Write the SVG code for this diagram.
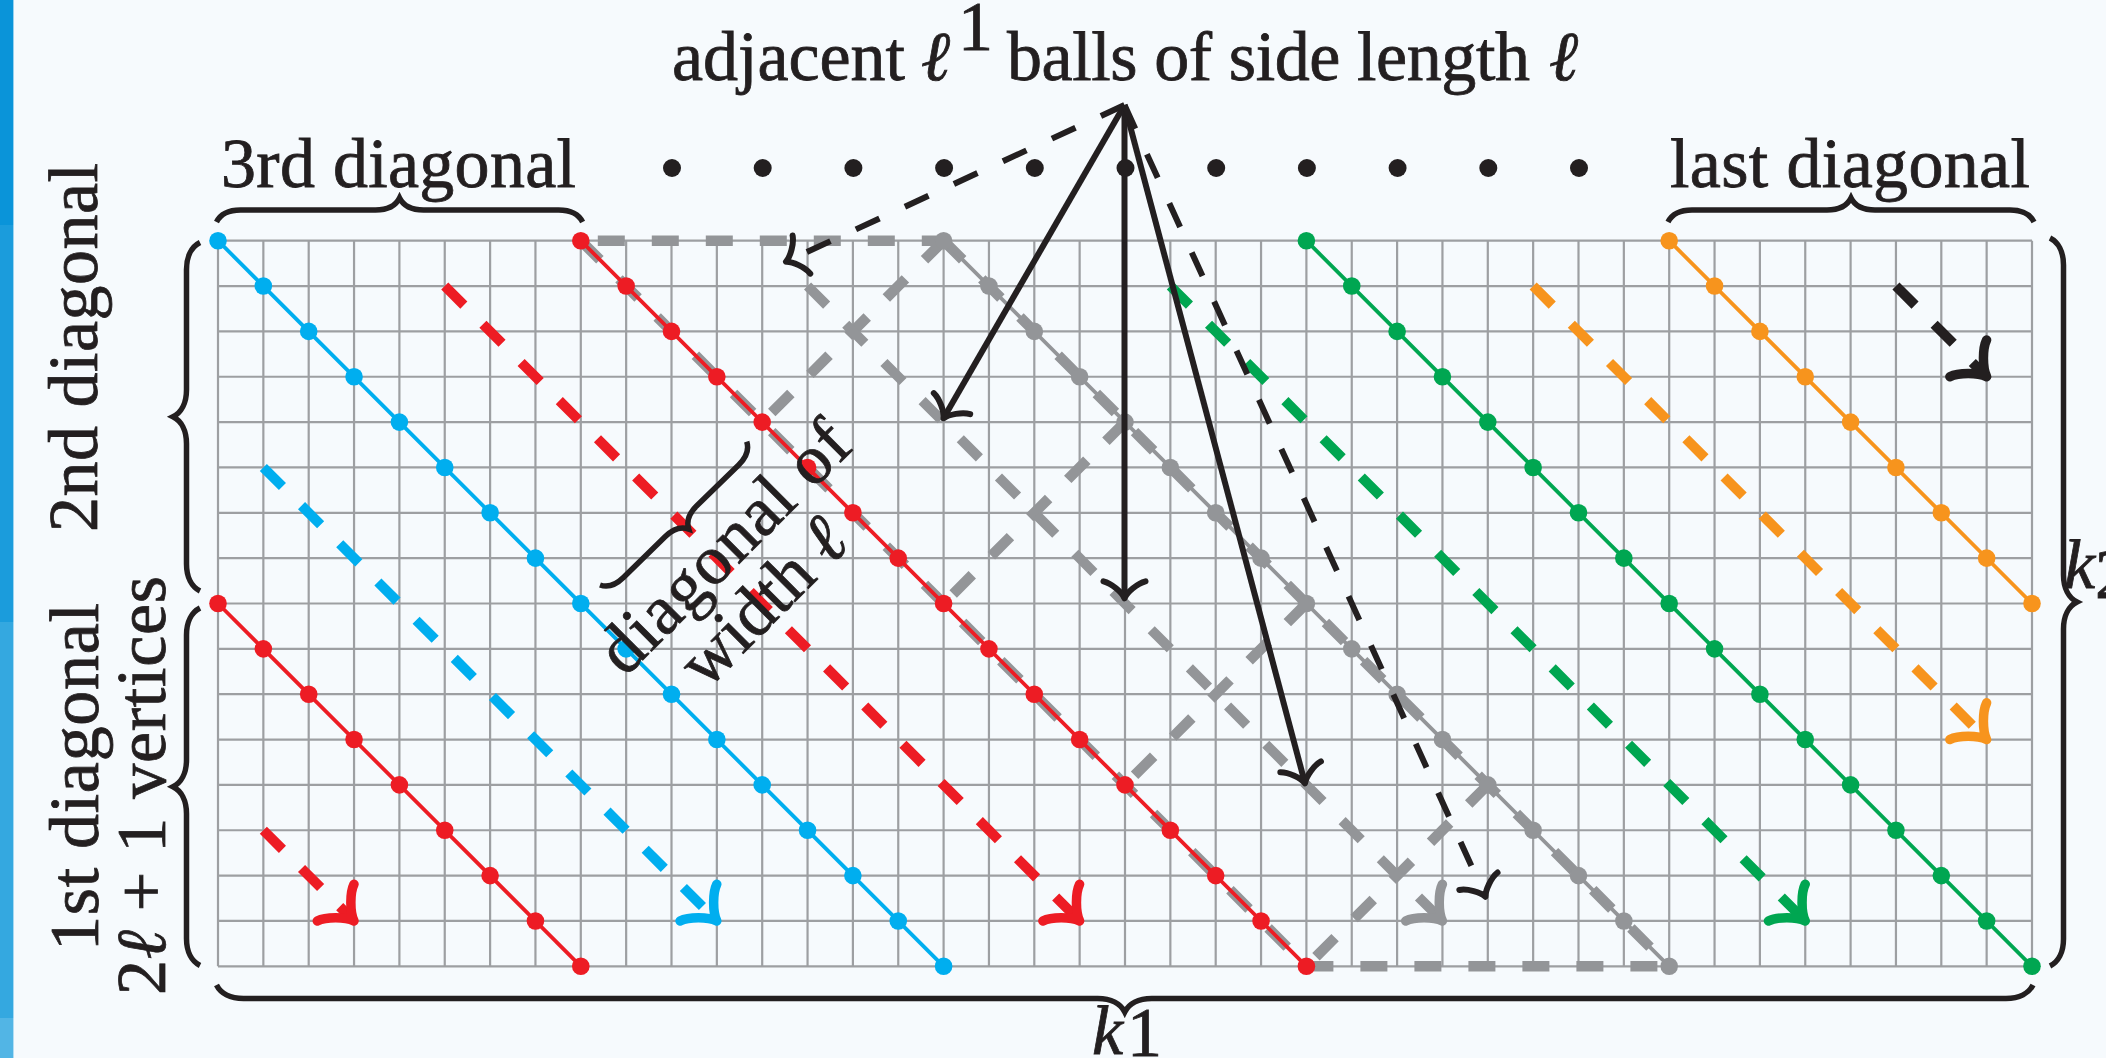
<svg xmlns="http://www.w3.org/2000/svg" width="2106" height="1058" viewBox="0 0 2106 1058">
<defs>
<style>
.lab{font-family:"Liberation Serif","DejaVu Serif",serif;font-size:70px;fill:#231F20;stroke:#231F20;stroke-width:0.8px}
.grid line{stroke:#9D9FA2;stroke-width:2.2}
.sol{fill:none;stroke-width:3.8}
.ball{fill:none;stroke:#939598;stroke-width:10.5;stroke-dasharray:27 27}
.da{fill:none;stroke-width:10;stroke-dasharray:27 27}
.ka{fill:none;stroke:#231F20;stroke-width:6}
.kd{stroke-dasharray:26 28}
.brace{fill:none;stroke:#231F20;stroke-width:5.5}
.red{stroke:#ED1C24}.redf{fill:#ED1C24}
.blue{stroke:#00AEEF}.bluef{fill:#00AEEF}
.gray{stroke:#939598}.grayf{fill:#939598}
.green{stroke:#00A651}.greenf{fill:#00A651}
.orange{stroke:#F7941D}.orangef{fill:#F7941D}
.black{stroke:#231F20}
</style>
<marker id="mR" markerUnits="userSpaceOnUse" viewBox="-40 -40 80 80" markerWidth="80" markerHeight="80" refX="-3" refY="0" orient="auto" overflow="visible"><path d="M-26,26 C-23,17 -9,3 0,0 C-9,-3 -23,-17 -26,-26" fill="none" stroke="#ED1C24" stroke-width="9.5" stroke-linecap="round" stroke-linejoin="round"/></marker>
<marker id="mB" markerUnits="userSpaceOnUse" viewBox="-40 -40 80 80" markerWidth="80" markerHeight="80" refX="-3" refY="0" orient="auto" overflow="visible"><path d="M-26,26 C-23,17 -9,3 0,0 C-9,-3 -23,-17 -26,-26" fill="none" stroke="#00AEEF" stroke-width="9.5" stroke-linecap="round" stroke-linejoin="round"/></marker>
<marker id="mGy" markerUnits="userSpaceOnUse" viewBox="-40 -40 80 80" markerWidth="80" markerHeight="80" refX="-3" refY="0" orient="auto" overflow="visible"><path d="M-26,26 C-23,17 -9,3 0,0 C-9,-3 -23,-17 -26,-26" fill="none" stroke="#939598" stroke-width="9.5" stroke-linecap="round" stroke-linejoin="round"/></marker>
<marker id="mGn" markerUnits="userSpaceOnUse" viewBox="-40 -40 80 80" markerWidth="80" markerHeight="80" refX="-3" refY="0" orient="auto" overflow="visible"><path d="M-26,26 C-23,17 -9,3 0,0 C-9,-3 -23,-17 -26,-26" fill="none" stroke="#00A651" stroke-width="9.5" stroke-linecap="round" stroke-linejoin="round"/></marker>
<marker id="mO" markerUnits="userSpaceOnUse" viewBox="-40 -40 80 80" markerWidth="80" markerHeight="80" refX="-3" refY="0" orient="auto" overflow="visible"><path d="M-26,26 C-23,17 -9,3 0,0 C-9,-3 -23,-17 -26,-26" fill="none" stroke="#F7941D" stroke-width="9.5" stroke-linecap="round" stroke-linejoin="round"/></marker>
<marker id="mK9" markerUnits="userSpaceOnUse" viewBox="-40 -40 80 80" markerWidth="80" markerHeight="80" refX="-3" refY="0" orient="auto" overflow="visible"><path d="M-26,26 C-23,17 -9,3 0,0 C-9,-3 -23,-17 -26,-26" fill="none" stroke="#231F20" stroke-width="9.5" stroke-linecap="round" stroke-linejoin="round"/></marker>
<marker id="mK" markerUnits="userSpaceOnUse" viewBox="-40 -40 80 80" markerWidth="80" markerHeight="80" refX="0" refY="0" orient="auto" overflow="visible"><path d="M-17,21 C-15,13 -6,2.5 0,0 C-6,-2.5 -15,-13 -17,-21" fill="none" stroke="#231F20" stroke-width="6" stroke-linecap="round" stroke-linejoin="round"/></marker>
</defs>

<rect x="0" y="0" width="2106" height="1058" fill="#F6FAFD"/>
<g id="sidebar">
<rect x="0" y="0" width="13.4" height="225" fill="#0A94D9"/>
<rect x="0" y="225" width="13.4" height="397" fill="#1B9CDC"/>
<rect x="0" y="622" width="13.4" height="396" fill="#34A8E0"/>
<rect x="0" y="1018" width="13.4" height="40" fill="#52B5E5"/>
</g>

<g id="grid" class="grid">
<line x1="218" y1="240.7" x2="218" y2="966.3"/><line x1="263.35" y1="240.7" x2="263.35" y2="966.3"/><line x1="308.7" y1="240.7" x2="308.7" y2="966.3"/><line x1="354.05" y1="240.7" x2="354.05" y2="966.3"/><line x1="399.4" y1="240.7" x2="399.4" y2="966.3"/><line x1="444.75" y1="240.7" x2="444.75" y2="966.3"/><line x1="490.1" y1="240.7" x2="490.1" y2="966.3"/><line x1="535.45" y1="240.7" x2="535.45" y2="966.3"/><line x1="580.8" y1="240.7" x2="580.8" y2="966.3"/><line x1="626.15" y1="240.7" x2="626.15" y2="966.3"/><line x1="671.5" y1="240.7" x2="671.5" y2="966.3"/><line x1="716.85" y1="240.7" x2="716.85" y2="966.3"/><line x1="762.2" y1="240.7" x2="762.2" y2="966.3"/><line x1="807.55" y1="240.7" x2="807.55" y2="966.3"/><line x1="852.9" y1="240.7" x2="852.9" y2="966.3"/><line x1="898.25" y1="240.7" x2="898.25" y2="966.3"/><line x1="943.6" y1="240.7" x2="943.6" y2="966.3"/><line x1="988.95" y1="240.7" x2="988.95" y2="966.3"/><line x1="1034.3" y1="240.7" x2="1034.3" y2="966.3"/><line x1="1079.65" y1="240.7" x2="1079.65" y2="966.3"/><line x1="1125" y1="240.7" x2="1125" y2="966.3"/><line x1="1170.35" y1="240.7" x2="1170.35" y2="966.3"/><line x1="1215.7" y1="240.7" x2="1215.7" y2="966.3"/><line x1="1261.05" y1="240.7" x2="1261.05" y2="966.3"/><line x1="1306.4" y1="240.7" x2="1306.4" y2="966.3"/><line x1="1351.75" y1="240.7" x2="1351.75" y2="966.3"/><line x1="1397.1" y1="240.7" x2="1397.1" y2="966.3"/><line x1="1442.45" y1="240.7" x2="1442.45" y2="966.3"/><line x1="1487.8" y1="240.7" x2="1487.8" y2="966.3"/><line x1="1533.15" y1="240.7" x2="1533.15" y2="966.3"/><line x1="1578.5" y1="240.7" x2="1578.5" y2="966.3"/><line x1="1623.85" y1="240.7" x2="1623.85" y2="966.3"/><line x1="1669.2" y1="240.7" x2="1669.2" y2="966.3"/><line x1="1714.55" y1="240.7" x2="1714.55" y2="966.3"/><line x1="1759.9" y1="240.7" x2="1759.9" y2="966.3"/><line x1="1805.25" y1="240.7" x2="1805.25" y2="966.3"/><line x1="1850.6" y1="240.7" x2="1850.6" y2="966.3"/><line x1="1895.95" y1="240.7" x2="1895.95" y2="966.3"/><line x1="1941.3" y1="240.7" x2="1941.3" y2="966.3"/><line x1="1986.65" y1="240.7" x2="1986.65" y2="966.3"/><line x1="2032" y1="240.7" x2="2032" y2="966.3"/>
<line x1="218" y1="240.7" x2="2032" y2="240.7"/><line x1="218" y1="286.05" x2="2032" y2="286.05"/><line x1="218" y1="331.4" x2="2032" y2="331.4"/><line x1="218" y1="376.75" x2="2032" y2="376.75"/><line x1="218" y1="422.1" x2="2032" y2="422.1"/><line x1="218" y1="467.45" x2="2032" y2="467.45"/><line x1="218" y1="512.8" x2="2032" y2="512.8"/><line x1="218" y1="558.15" x2="2032" y2="558.15"/><line x1="218" y1="603.5" x2="2032" y2="603.5"/><line x1="218" y1="648.85" x2="2032" y2="648.85"/><line x1="218" y1="694.2" x2="2032" y2="694.2"/><line x1="218" y1="739.55" x2="2032" y2="739.55"/><line x1="218" y1="784.9" x2="2032" y2="784.9"/><line x1="218" y1="830.25" x2="2032" y2="830.25"/><line x1="218" y1="875.6" x2="2032" y2="875.6"/><line x1="218" y1="920.95" x2="2032" y2="920.95"/><line x1="218" y1="966.3" x2="2032" y2="966.3"/>
</g>

<g id="balls">
<path class="ball" d="M580.8,240.7 H943.6" stroke-dashoffset="37"/>
<path class="ball" d="M580.8,240.7 L1306.4,966.3"/>
<path class="ball" d="M943.6,240.7 L1669.2,966.3"/>
<path class="ball" d="M943.6,240.7 L762.2,422.1"/>
<path class="ball" d="M1125,422.1 L943.6,603.5"/>
<path class="ball" d="M1306.4,603.5 L1125,784.9"/>
<path class="ball" d="M1487.8,784.9 L1306.4,966.3"/>
<path class="ball" d="M1306.4,966.3 H1669.2"/>
</g>

<g id="diag1">
<path class="sol red" d="M218,603.5 L580.8,966.3"/>
<g class="redf"><circle cx="218" cy="603.5" r="8.8"/><circle cx="263.35" cy="648.85" r="8.8"/><circle cx="308.7" cy="694.2" r="8.8"/><circle cx="354.05" cy="739.55" r="8.8"/><circle cx="399.4" cy="784.9" r="8.8"/><circle cx="444.75" cy="830.25" r="8.8"/><circle cx="490.1" cy="875.6" r="8.8"/><circle cx="535.45" cy="920.95" r="8.8"/><circle cx="580.8" cy="966.3" r="8.8"/></g>
</g>
<g id="diag2">
<path class="sol blue" d="M218,240.7 L943.6,966.3"/>
<g class="bluef"><circle cx="218" cy="240.7" r="8.8"/><circle cx="263.35" cy="286.05" r="8.8"/><circle cx="308.7" cy="331.4" r="8.8"/><circle cx="354.05" cy="376.75" r="8.8"/><circle cx="399.4" cy="422.1" r="8.8"/><circle cx="444.75" cy="467.45" r="8.8"/><circle cx="490.1" cy="512.8" r="8.8"/><circle cx="535.45" cy="558.15" r="8.8"/><circle cx="580.8" cy="603.5" r="8.8"/><circle cx="626.15" cy="648.85" r="8.8"/><circle cx="671.5" cy="694.2" r="8.8"/><circle cx="716.85" cy="739.55" r="8.8"/><circle cx="762.2" cy="784.9" r="8.8"/><circle cx="807.55" cy="830.25" r="8.8"/><circle cx="852.9" cy="875.6" r="8.8"/><circle cx="898.25" cy="920.95" r="8.8"/><circle cx="943.6" cy="966.3" r="8.8"/></g>
</g>
<g id="diag3">
<path class="sol red" d="M580.8,240.7 L1306.4,966.3"/>
<g class="redf"><circle cx="580.8" cy="240.7" r="8.8"/><circle cx="626.15" cy="286.05" r="8.8"/><circle cx="671.5" cy="331.4" r="8.8"/><circle cx="716.85" cy="376.75" r="8.8"/><circle cx="762.2" cy="422.1" r="8.8"/><circle cx="807.55" cy="467.45" r="8.8"/><circle cx="852.9" cy="512.8" r="8.8"/><circle cx="898.25" cy="558.15" r="8.8"/><circle cx="943.6" cy="603.5" r="8.8"/><circle cx="988.95" cy="648.85" r="8.8"/><circle cx="1034.3" cy="694.2" r="8.8"/><circle cx="1079.65" cy="739.55" r="8.8"/><circle cx="1125" cy="784.9" r="8.8"/><circle cx="1170.35" cy="830.25" r="8.8"/><circle cx="1215.7" cy="875.6" r="8.8"/><circle cx="1261.05" cy="920.95" r="8.8"/><circle cx="1306.4" cy="966.3" r="8.8"/></g>
</g>
<g id="diag4">
<path class="sol gray" d="M943.6,240.7 L1669.2,966.3"/>
<g class="grayf"><circle cx="943.6" cy="240.7" r="8.8"/><circle cx="988.95" cy="286.05" r="8.8"/><circle cx="1034.3" cy="331.4" r="8.8"/><circle cx="1079.65" cy="376.75" r="8.8"/><circle cx="1125" cy="422.1" r="8.8"/><circle cx="1170.35" cy="467.45" r="8.8"/><circle cx="1215.7" cy="512.8" r="8.8"/><circle cx="1261.05" cy="558.15" r="8.8"/><circle cx="1306.4" cy="603.5" r="8.8"/><circle cx="1351.75" cy="648.85" r="8.8"/><circle cx="1397.1" cy="694.2" r="8.8"/><circle cx="1442.45" cy="739.55" r="8.8"/><circle cx="1487.8" cy="784.9" r="8.8"/><circle cx="1533.15" cy="830.25" r="8.8"/><circle cx="1578.5" cy="875.6" r="8.8"/><circle cx="1623.85" cy="920.95" r="8.8"/><circle cx="1669.2" cy="966.3" r="8.8"/></g>
</g>
<g id="diag5">
<path class="sol green" d="M1306.4,240.7 L2032,966.3"/>
<g class="greenf"><circle cx="1306.4" cy="240.7" r="8.8"/><circle cx="1351.75" cy="286.05" r="8.8"/><circle cx="1397.1" cy="331.4" r="8.8"/><circle cx="1442.45" cy="376.75" r="8.8"/><circle cx="1487.8" cy="422.1" r="8.8"/><circle cx="1533.15" cy="467.45" r="8.8"/><circle cx="1578.5" cy="512.8" r="8.8"/><circle cx="1623.85" cy="558.15" r="8.8"/><circle cx="1669.2" cy="603.5" r="8.8"/><circle cx="1714.55" cy="648.85" r="8.8"/><circle cx="1759.9" cy="694.2" r="8.8"/><circle cx="1805.25" cy="739.55" r="8.8"/><circle cx="1850.6" cy="784.9" r="8.8"/><circle cx="1895.95" cy="830.25" r="8.8"/><circle cx="1941.3" cy="875.6" r="8.8"/><circle cx="1986.65" cy="920.95" r="8.8"/><circle cx="2032" cy="966.3" r="8.8"/></g>
</g>
<g id="diag6">
<path class="sol orange" d="M1669.2,240.7 L2032,603.5"/>
<g class="orangef"><circle cx="1669.2" cy="240.7" r="8.8"/><circle cx="1714.55" cy="286.05" r="8.8"/><circle cx="1759.9" cy="331.4" r="8.8"/><circle cx="1805.25" cy="376.75" r="8.8"/><circle cx="1850.6" cy="422.1" r="8.8"/><circle cx="1895.95" cy="467.45" r="8.8"/><circle cx="1941.3" cy="512.8" r="8.8"/><circle cx="1986.65" cy="558.15" r="8.8"/><circle cx="2032" cy="603.5" r="8.8"/></g>
</g>

<g id="connectors">
<path class="da red" d="M263.35,830.25 L351.9,918.8" marker-end="url(#mR)"/>
<path class="da blue" d="M263.35,467.45 L714.7,918.8" marker-end="url(#mB)"/>
<path class="da red" d="M444.75,286.05 L1077.5,918.8" marker-end="url(#mR)"/>
<path class="da gray" d="M807.55,286.05 L1440.3,918.8" marker-end="url(#mGy)"/>
<path class="da green" d="M1170.35,286.05 L1803.1,918.8" marker-end="url(#mGn)"/>
<path class="da orange" d="M1533.15,286.05 L1984.5,737.4" marker-end="url(#mO)"/>
<path class="da black" d="M1895.95,286.05 L1984.5,374.6" marker-end="url(#mK9)"/>
<path class="ka kd" d="M1124.5,105 L786,261.7" marker-end="url(#mK)"/>
<path class="ka" d="M1124.5,105 L943.5,418.3" marker-end="url(#mK)"/>
<path class="ka" d="M1124.5,105 L1124.5,598.3" marker-end="url(#mK)"/>
<path class="ka" d="M1124.5,105 L1305,783.3" marker-end="url(#mK)"/>
<path class="ka kd" d="M1124.5,105 L1485.5,896.7" marker-end="url(#mK)"/>
</g>

<g id="dots" fill="#231F20">
<circle cx="672" cy="168" r="9"/><circle cx="762.7" cy="168" r="9"/><circle cx="853.4" cy="168" r="9"/><circle cx="944.1" cy="168" r="9"/><circle cx="1034.8" cy="168" r="9"/><circle cx="1125.5" cy="168" r="9"/><circle cx="1216.2" cy="168" r="9"/><circle cx="1306.9" cy="168" r="9"/><circle cx="1397.6" cy="168" r="9"/><circle cx="1488.3" cy="168" r="9"/><circle cx="1579" cy="168" r="9"/>
</g>

<g id="braces">
<path class="brace" d="M216.5,222 C220.1,214.8 228.5,210 240.5,210 L375.55,210 C387.55,210 395.95,205.2 399.55,198 C403.15,205.2 411.55,210 423.55,210 L558.6,210 C570.6,210 579,214.8 582.6,222"/>
<path class="brace" d="M1668,222 C1671.6,214.8 1680,210 1692,210 L1827,210 C1839,210 1847.4,205.2 1851,198 C1854.6,205.2 1863,210 1875,210 L2010,210 C2022,210 2030.4,214.8 2034,222"/>
<path class="brace" d="M200,242.5 C191.9,246.55 186.5,256 186.5,269.5 L186.5,389.75 C186.5,403.25 181.1,412.7 173,416.75 C181.1,420.8 186.5,430.25 186.5,443.75 L186.5,564 C186.5,577.5 191.9,586.95 200,591"/>
<path class="brace" d="M200,608 C191.9,612.05 186.5,621.5 186.5,635 L186.5,759.75 C186.5,773.25 181.1,782.7 173,786.75 C181.1,790.8 186.5,800.25 186.5,813.75 L186.5,938.5 C186.5,952 191.9,961.45 200,965.5"/>
<path class="brace" d="M216.5,985 C220.55,993.1 230,998.5 243.5,998.5 L1097.75,998.5 C1111.25,998.5 1120.7,1003.9 1124.75,1012 C1128.8,1003.9 1138.25,998.5 1151.75,998.5 L2006,998.5 C2019.5,998.5 2028.95,993.1 2033,985"/>
<path class="brace" d="M2050,238 C2058.1,242.05 2063.5,251.5 2063.5,265 L2063.5,575 C2063.5,588.5 2068.9,597.95 2077,602 C2068.9,606.05 2063.5,615.5 2063.5,629 L2063.5,939 C2063.5,952.5 2058.1,961.95 2050,966"/>
<path class="brace" transform="translate(600,585) rotate(-44.33)" d="M0,0 C3.3,6.6 11,11 22,11 L80.55,11 C91.55,11 99.25,15.4 102.55,22 C105.85,15.4 113.55,11 124.55,11 L183.1,11 C194.1,11 201.8,6.6 205.1,0"/>
</g>

<g id="labels">
<g id="title">
<text class="lab" x="672" y="80" textLength="233" lengthAdjust="spacing">adjacent</text>
<text class="lab" x="921" y="80" font-style="italic">ℓ</text>
<text class="lab" x="958" y="50" font-size="40">1</text>
<text class="lab" x="1007" y="80" textLength="523" lengthAdjust="spacing">balls of side length</text>
<text class="lab" x="1549" y="80" font-style="italic">ℓ</text>
</g>
<text class="lab" x="221" y="187" textLength="355" lengthAdjust="spacing">3rd diagonal</text>
<text class="lab" x="1670" y="187" textLength="360" lengthAdjust="spacing">last diagonal</text>
<text class="lab" transform="translate(97,347.5) rotate(-90)" text-anchor="middle" textLength="369" lengthAdjust="spacing">2nd diagonal</text>
<text class="lab" transform="translate(98,777) rotate(-90)" text-anchor="middle" textLength="348" lengthAdjust="spacing">1st diagonal</text>
<text class="lab" transform="translate(165,785.5) rotate(-90)" text-anchor="middle" textLength="419" lengthAdjust="spacing">2<tspan font-style="italic">ℓ</tspan> + 1 vertices</text>
<text class="lab" transform="translate(740,563) rotate(-45)" text-anchor="middle" textLength="325" lengthAdjust="spacing">diagonal of</text>
<text class="lab" transform="translate(779,618) rotate(-45)" text-anchor="middle" textLength="205" lengthAdjust="spacing">width <tspan font-style="italic">ℓ</tspan></text>
<text class="lab" x="1092" y="1054" font-style="italic">k</text>
<text class="lab" x="1127" y="1056" font-size="44">1</text>
<text class="lab" x="2064" y="588" font-style="italic">k</text>
<text class="lab" x="2095" y="598" font-size="44">2</text>
</g>
</svg>
